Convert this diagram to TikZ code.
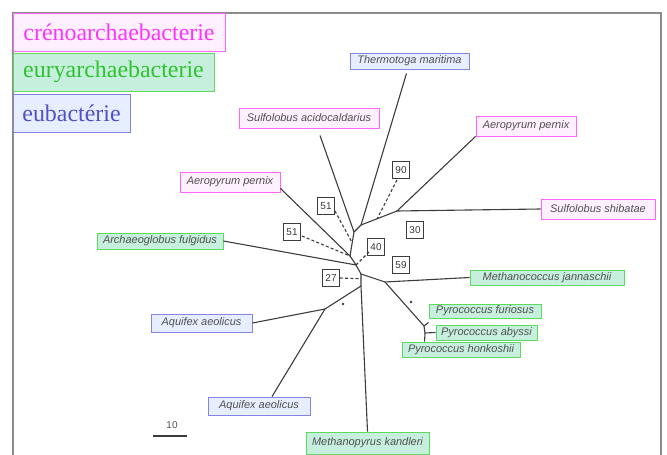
\documentclass[tikz,border=0pt]{standalone}
\usepackage{fontspec}
\setmainfont{Liberation Serif}
\setsansfont{Liberation Sans}
\usetikzlibrary{calc}

\definecolor{framegray}{HTML}{8C8C8C}
\definecolor{branch}{HTML}{3C3C3C}
\definecolor{labelgray}{HTML}{505050}
\definecolor{crenoText}{HTML}{FF33FF}
\definecolor{crenoLine}{HTML}{FF66FF}
\definecolor{crenoFill}{HTML}{FFF0FF}
\definecolor{euryText}{HTML}{2EC42E}
\definecolor{euryLine}{HTML}{5EDA5E}
\definecolor{euryFill}{HTML}{C6F0DD}
\definecolor{eubacText}{HTML}{5050C8}
\definecolor{eubacLine}{HTML}{8484E4}
\definecolor{eubacFill}{HTML}{E6EEFF}

\tikzset{
  legendbox/.style={draw, line width=0.9bp, inner sep=0pt, minimum height=38bp,
    font=\fontsize{24}{28}\selectfont},
  taxon/.style={draw, line width=0.9bp, inner sep=0pt, text=labelgray,
    font=\sffamily\itshape\fontsize{11}{13}\selectfont},
  crenobox/.style={taxon, draw=crenoLine, fill=crenoFill},
  eurybox/.style={taxon, draw=euryLine, fill=euryFill},
  eubacbox/.style={taxon, draw=eubacLine, fill=eubacFill},
  numbox/.style={draw=branch, fill=white, line width=0.8bp, minimum size=17bp,
    inner sep=0pt, text=labelgray!70!black, font=\sffamily\fontsize{10}{12}\selectfont},
  edge/.style={draw=branch, line width=1.1bp},
  support/.style={draw=branch, line width=1.1bp, dash pattern=on 3bp off 2.2bp},
}

\begin{document}
\begin{tikzpicture}[x=1bp, y=-1bp]
\useasboundingbox (0,0) rectangle (667,455);

% outer frame
\draw[framegray, line width=1.5bp] (13,455) -- (13,13) -- (661,13) -- (661,455);

% legend
\node[legendbox, draw=crenoLine, fill=crenoFill, text=crenoText, minimum width=212bp] (lcreno) at (119,32) {crénoarchaebacterie};
\node[legendbox, draw=euryLine, fill=euryFill, text=euryText, minimum width=201bp] (leury) at (113.5,72) {euryarchaebacterie};
\node[legendbox, draw=eubacLine, fill=eubacFill, text=eubacText, minimum width=117bp] (leubac) at (71.5,113) {eubactérie};

% taxa
\node[eubacbox, minimum width=119bp, minimum height=16bp] (thermo) at (409.5,61) {Thermotoga maritima};
\node[crenobox, minimum width=140bp, minimum height=20bp] (sacido) at (309,118) {Sulfolobus acidocaldarius};
\node[crenobox, minimum width=100bp, minimum height=20bp] (aeroR) at (526,126) {Aeropyrum pernix};
\node[crenobox, minimum width=114bp, minimum height=20bp] (sshib) at (598,209) {Sulfolobus shibatae};
\node[crenobox, minimum width=100bp, minimum height=20bp] (aeroL) at (230,182) {Aeropyrum pernix};
\node[eurybox, minimum width=126bp, minimum height=16bp] (archaeo) at (160,241) {Archaeoglobus fulgidus};
\node[eubacbox, minimum width=101bp, minimum height=18bp] (aquU) at (201.5,323) {Aquifex aeolicus};
\node[eubacbox, minimum width=102bp, minimum height=18bp] (aquL) at (259,406) {Aquifex aeolicus};
\node[eurybox, minimum width=123bp, minimum height=22bp] (mpyrus) at (367.5,443) {Methanopyrus kandleri};
\node[eurybox, minimum width=154bp, minimum height=15bp] (mcocc) at (547,277.5) {Methanococcus jannaschii};
\node[eurybox, minimum width=112bp, minimum height=14bp] (pfur) at (485,311) {Pyrococcus furiosus};
\node[eurybox, minimum width=101bp, minimum height=15bp] (paby) at (486.5,332.5) {Pyrococcus abyssi};
\node[eurybox, minimum width=118bp, minimum height=15bp] (phon) at (461,349.5) {Pyrococcus honkoshii};

% inner nodes of the tree
\coordinate (jtop) at (361,225);
\coordinate (jas)  at (397,211);
\coordinate (jsa)  at (354,232);
\coordinate (jap)  at (350,256);
\coordinate (jar)  at (356,265);
\coordinate (jc)   at (361,274);
\coordinate (jd)   at (361,286);
\coordinate (jm)   at (385,282);
\coordinate (jaq)  at (325,309);
\coordinate (jpy)  at (424,326);
\coordinate (jab)  at (425,333);

% leaf ends of the branches
\coordinate (ethermo) at ($(thermo.south)+(-3,4)$);
\coordinate (esacido) at ($(sacido.south)+(11,7)$);
\coordinate (eaeroL)  at ($(aeroL.south east)+(0,-4)$);
\coordinate (eaquL)   at ($(aquL.north)+(13,0)$);
\coordinate (epfur)   at ($(pfur.south west)+(0,4)$);
\coordinate (ephon)   at ($(phon.north west)+(23,0)$);

% branches
\draw[edge] (ethermo) -- (jtop);
\draw[edge] (aeroR.south west) -- (jas) -- (sshib.west);
\draw[edge] (jas) -- (jtop) -- (jsa) -- (jap) -- (jar) -- (jc) -- (jd);
\draw[edge] (esacido) -- (jsa);
\draw[edge] (eaeroL) -- (jap);
\draw[edge] (archaeo.east) -- (jar);
\draw[edge] (jc) -- (jm) -- (mcocc.west);
\draw[edge] (jm) -- (jpy);
\draw[edge] (jpy) -- (epfur);
\draw[edge] (jpy) -- (jab) -- (paby.west);
\draw[edge] (jab) -- (ephon);
\draw[edge] (jd) -- (mpyrus.north);
\draw[edge] (jd) -- (jaq) -- (aquU.east);
\draw[edge] (jaq) -- (eaquL);

% bootstrap values
\node[numbox] (b90) at (401,170) {90};
\node[numbox] (b51u) at (326,206) {51};
\node[numbox] (b51l) at (292,232) {51};
\node[numbox] (b40) at (376,247) {40};
\node[numbox] (b30) at (415,230) {30};
\node[numbox] (b59) at (401,265) {59};
\node[numbox] (b27) at (331,278) {27};

\draw[support] ($(b90.south)+(-4,1)$) -- ($(jtop)!0.45!(jas)$);
\draw[support] ($(b51u.south east)+(0,-4)$) -- ($(jsa)!0.45!(jap)$);
\draw[support] ($(b51l.east)+(1,4)$) -- (jap);
\draw[support] ($(b40.south west)+(2,-4)$) -- (jar);
\draw[support] (b27.east) -- ($(jc)!0.4!(jd)$);

% small marks
\fill[branch] (343,304) circle (1.3bp);
\fill[branch] (411,302) circle (1.3bp);

% scale bar
\node[font=\sffamily\fontsize{10}{12}\selectfont, text=labelgray] (scalelbl) at (172,425) {10};
\coordinate (sbl) at (153,436);
\coordinate (sbr) at (187,436);
\draw[branch, line width=1.1bp] (sbl) -- (sbr);
\end{tikzpicture}
\end{document}
